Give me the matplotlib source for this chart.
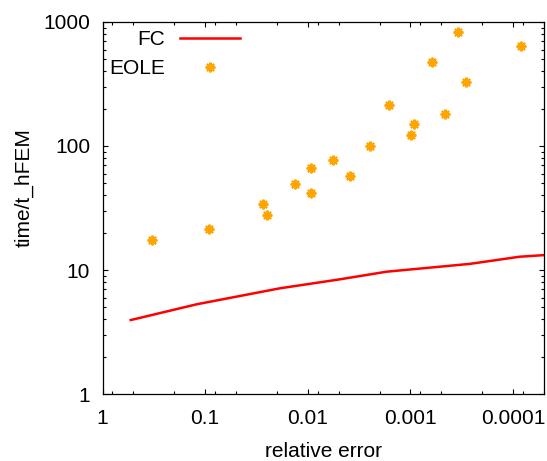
import matplotlib
matplotlib.use("Agg")
import matplotlib.pyplot as plt
from matplotlib.ticker import LogLocator, FormatStrFormatter, NullFormatter

plt.rcParams['font.family'] = ['Liberation Sans', 'DejaVu Sans']
plt.rcParams['font.size'] = 15

# FC curve (relative error vs normalised time)
fc_err  = [0.53, 0.121, 0.0187, 0.00487, 0.00171, 0.000265, 8.6e-5, 4.9e-5]
fc_time = [3.95, 5.29, 7.12, 8.41, 9.69, 11.2, 12.8, 13.2]

# EOLE samples
eole_err  = [0.33, 0.092, 0.0275, 0.025, 0.0134, 0.0094, 0.0094, 0.0057,
             0.0039, 0.0025, 0.0016, 0.00099, 0.00093, 0.00062, 0.00046,
             0.00034, 0.00029, 8.3e-5]
eole_time = [17.5, 21.3, 33.9, 27.6, 49.1, 66.5, 42.0, 76.7,
             57.6, 100, 214, 123, 150, 473, 180,
             826, 330, 644]

fig = plt.figure(figsize=(5.47, 4.61), dpi=100)
ax = fig.add_axes([0.1874, 0.1453, 0.807, 0.807])

line_fc, = ax.plot(fc_err, fc_time, color='#ff0000', lw=1.8, label='FC')
pts_eole, = ax.plot(eole_err, eole_time, ls='none', marker=(8, 2, 0),
                    ms=7, mew=1.5, color='#ffa500', mec='#ffa500',
                    label='EOLE')

ax.set_xscale('log')
ax.set_yscale('log')
ax.set_xlim(1, 5e-5)
ax.set_ylim(1, 1000)

ax.xaxis.set_major_locator(LogLocator(base=10, numticks=10))
ax.xaxis.set_minor_locator(LogLocator(base=10, subs=(2, 5, 8), numticks=10))
ax.xaxis.set_major_formatter(FormatStrFormatter('%g'))
ax.xaxis.set_minor_formatter(NullFormatter())
ax.yaxis.set_major_locator(LogLocator(base=10, numticks=10))
ax.yaxis.set_minor_locator(LogLocator(base=10, subs=range(2, 10), numticks=10))
ax.yaxis.set_major_formatter(FormatStrFormatter('%g'))
ax.yaxis.set_minor_formatter(NullFormatter())

ax.tick_params(which='both', direction='in', top=True, right=True, width=0.8)
ax.tick_params(which='major', length=3.5)
ax.tick_params(axis='x', which='major', pad=11)
ax.tick_params(axis='y', which='major', pad=9)
ax.tick_params(which='minor', length=2)
for s in ax.spines.values():
    s.set_linewidth(0.9)

ax.set_xlabel('relative error', labelpad=10)
ax.set_ylabel('time/t_hFEM')
ax.yaxis.set_label_coords(-0.157, 0.554)

# gnuplot-style key: text right-aligned, sample on the right
leg1 = ax.legend([line_fc], ['FC'], loc='center right',
                 bbox_to_anchor=(0.311, 0.952), frameon=False,
                 markerfirst=False, borderpad=0, borderaxespad=0,
                 handlelength=2.85, handletextpad=0.75)
ax.add_artist(leg1)
ax.legend([pts_eole], ['EOLE'], loc='center right',
          bbox_to_anchor=(0.311, 0.874), frameon=False,
          markerfirst=False, borderpad=0, borderaxespad=0,
          handlelength=2.85, handletextpad=0.75, numpoints=1)

fig.savefig('out.png', dpi=100)
